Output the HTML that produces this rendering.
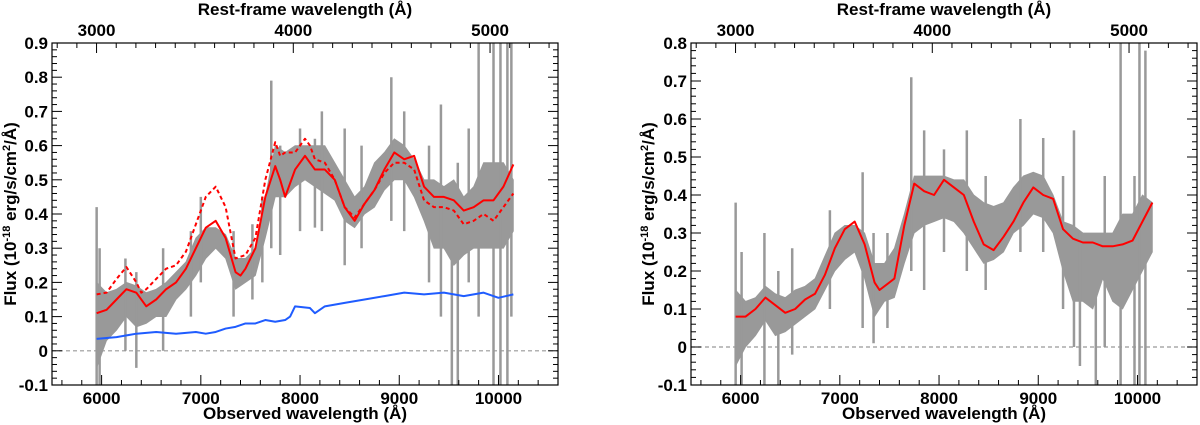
<!DOCTYPE html>
<html><head><meta charset="utf-8"><style>
html,body{margin:0;padding:0;background:#fff}
svg{display:block;font-family:"Liberation Sans",sans-serif;font-weight:bold}
</style></head><body>
<svg id="c" width="1200" height="425" xmlns="http://www.w3.org/2000/svg"></svg>
<script>
const lam = [5950,6050,6150,6250,6350,6450,6550,6650,6750,6850,6950,7050,7150,7250,7350,7450,7550,7650,7750,7850,7950,8050,8150,8250,8350,8450,8550,8650,8750,8850,8950,9050,9150,9250,9350,9450,9550,9650,9750,9850,9950,10050,10150];
const grayUpperL = [0.2,0.17,0.18,0.2,0.19,0.17,0.18,0.2,0.23,0.26,0.33,0.36,0.36,0.34,0.27,0.27,0.3,0.45,0.6,0.58,0.6,0.6,0.6,0.6,0.55,0.5,0.45,0.48,0.55,0.58,0.62,0.6,0.56,0.5,0.5,0.48,0.5,0.45,0.48,0.55,0.55,0.55,0.5];
const grayLowerL = [-0.05,0.03,0.06,0.1,0.07,0.08,0.1,0.1,0.15,0.18,0.22,0.27,0.3,0.27,0.18,0.2,0.22,0.33,0.45,0.45,0.48,0.5,0.48,0.46,0.44,0.38,0.36,0.4,0.42,0.47,0.5,0.5,0.45,0.38,0.3,0.3,0.25,0.28,0.3,0.3,0.3,0.3,0.35];
const spikeLamL = [5950,5980,6240,6350,6620,6900,7000,7330,7520,7620,7710,7800,8000,8150,8220,8450,8620,8920,9050,9300,9420,9530,9590,9700,9800,9950,10020,10090,10130];
const spikeLoL = [-0.1,-0.1,0.0,-0.05,0.0,0.1,0.2,0.1,0.15,0.2,0.3,0.28,0.35,0.36,0.35,0.25,0.3,0.38,0.35,0.2,0.1,-0.1,-0.1,0.2,0.1,-0.1,-0.1,-0.1,0.1];
const spikeHiL = [0.42,0.3,0.27,0.23,0.3,0.35,0.45,0.35,0.37,0.45,0.79,0.6,0.65,0.62,0.7,0.65,0.6,0.8,0.7,0.6,0.72,0.3,0.55,0.65,0.9,0.9,0.9,0.9,0.9];
const redLamL = [5950,6050,6150,6250,6350,6450,6550,6650,6750,6850,6950,7050,7150,7250,7350,7400,7450,7550,7650,7750,7800,7850,7950,8050,8100,8150,8250,8350,8450,8550,8650,8750,8850,8950,9050,9150,9250,9350,9450,9550,9650,9750,9850,9950,10050,10150];
const redSolidL = [0.11,0.12,0.15,0.18,0.17,0.13,0.15,0.18,0.2,0.24,0.3,0.36,0.38,0.33,0.23,0.22,0.24,0.3,0.45,0.54,0.5,0.45,0.53,0.57,0.55,0.53,0.53,0.5,0.42,0.38,0.43,0.47,0.53,0.58,0.56,0.57,0.48,0.45,0.45,0.44,0.41,0.42,0.44,0.44,0.48,0.545];
const dashLamL = [5950,6050,6150,6250,6350,6400,6450,6550,6650,6750,6850,6950,7050,7150,7250,7350,7450,7550,7650,7750,7800,7850,7950,8050,8100,8150,8250,8350,8450,8550,8650,8750,8850,8950,9050,9150,9250,9350,9450,9550,9650,9750,9850,9950,10050,10150];
const redDashL = [0.165,0.17,0.21,0.245,0.2,0.17,0.18,0.21,0.24,0.25,0.29,0.37,0.45,0.48,0.42,0.27,0.28,0.33,0.5,0.61,0.57,0.58,0.58,0.62,0.6,0.56,0.55,0.5,0.42,0.39,0.43,0.47,0.52,0.55,0.55,0.53,0.44,0.42,0.42,0.41,0.37,0.38,0.4,0.38,0.42,0.46];
const blueLam = [5950,6150,6350,6550,6750,6950,7050,7150,7250,7350,7450,7550,7650,7750,7850,7900,7950,8100,8150,8250,8450,8650,8850,9050,9250,9450,9650,9850,10000,10150];
const blueL = [0.035,0.04,0.05,0.055,0.05,0.055,0.05,0.055,0.065,0.07,0.08,0.08,0.09,0.085,0.09,0.1,0.13,0.125,0.11,0.13,0.14,0.15,0.16,0.17,0.165,0.17,0.16,0.17,0.155,0.165];
const redLamR = [5950,6050,6150,6250,6350,6450,6550,6650,6750,6850,6950,7050,7150,7250,7350,7400,7550,7650,7750,7850,7950,8050,8150,8250,8350,8450,8550,8650,8750,8850,8950,9050,9150,9250,9350,9450,9550,9650,9750,9850,9950,10050,10150];
const redR = [0.08,0.08,0.1,0.13,0.11,0.09,0.1,0.125,0.14,0.19,0.26,0.31,0.33,0.27,0.17,0.15,0.18,0.32,0.43,0.41,0.4,0.44,0.42,0.4,0.33,0.27,0.255,0.29,0.33,0.38,0.42,0.4,0.39,0.31,0.285,0.275,0.275,0.265,0.265,0.27,0.28,0.33,0.38];
const grayUpperR = [0.15,0.12,0.13,0.16,0.14,0.13,0.15,0.16,0.18,0.24,0.3,0.32,0.32,0.3,0.22,0.22,0.26,0.35,0.45,0.45,0.45,0.45,0.44,0.44,0.4,0.38,0.37,0.38,0.42,0.45,0.46,0.45,0.4,0.33,0.32,0.3,0.3,0.3,0.3,0.35,0.35,0.4,0.38];
const grayLowerR = [-0.05,0.0,0.03,0.07,0.03,0.04,0.06,0.08,0.1,0.15,0.2,0.23,0.25,0.18,0.08,0.12,0.13,0.22,0.3,0.32,0.33,0.34,0.33,0.3,0.26,0.22,0.23,0.25,0.3,0.32,0.35,0.34,0.3,0.2,0.12,0.12,0.1,0.18,0.12,0.1,0.15,0.2,0.25];
const spikeLamR = [5950,6010,6240,6380,6520,6900,7230,7340,7480,7720,7850,8050,8280,8470,8820,9050,9250,9360,9420,9580,9670,9830,9970,10020,10080];
const spikeLoR = [-0.1,-0.1,-0.1,-0.1,-0.02,0.1,0.05,0.01,0.05,0.2,0.15,0.25,0.2,0.15,0.25,0.25,0.1,0.0,-0.05,-0.1,0.0,-0.1,-0.1,-0.1,-0.1];
const spikeHiR = [0.38,0.25,0.3,0.2,0.26,0.36,0.46,0.3,0.3,0.71,0.57,0.52,0.57,0.45,0.6,0.55,0.45,0.57,0.3,0.3,0.45,0.8,0.45,0.8,0.78];
const xTicks = [6000,7000,8000,9000,10000];
const restTicks = [3000,4000,5000];
const yTicksL = [-0.1,0,0.1,0.2,0.3,0.4,0.5,0.6,0.7,0.8,0.9];
const yTicksR = [-0.1,0,0.1,0.2,0.3,0.4,0.5,0.6,0.7,0.8];
const zFactor = 1.983;

const NS="http://www.w3.org/2000/svg", svg=document.getElementById('c');
function el(tag,attrs,parent){const e=document.createElementNS(NS,tag);for(const k in attrs)e.setAttribute(k,attrs[k]);(parent||svg).appendChild(e);return e;}

function panel(p){
  const g=el('g',{});
  
  
  const X0=5500,X1=10600;
  const sx=v=>p.l+(v-X0)/(X1-X0)*(p.r-p.l);
  const cl=v=>Math.max(p.ymin,Math.min(p.ymax,v));
  const sy=v=>p.b-(cl(v)-p.ymin)/(p.ymax-p.ymin)*(p.b-p.t);
  let d='';
  lam.forEach((l,i)=>{d+=(i?'L':'M')+sx(l)+','+sy(p.up[i]);});
  for(let i=lam.length-1;i>=0;i--)d+='L'+sx(lam[i])+','+sy(p.lo[i]);
  const band=el('path',{d:d+'Z',fill:'#999',stroke:'#999','stroke-width':'0.8'},g);
  
  
  p.sl.forEach((l,i)=>{
    const s=el('line',{x1:sx(l),x2:sx(l),y1:sy(p.slo[i]),y2:sy(p.shi[i]),stroke:'#999','stroke-width':'2.5'},g);
    
    
  });
  const z=el('line',{x1:p.l,x2:p.r,y1:sy(0),y2:sy(0),stroke:'#999','stroke-width':'1.2','stroke-dasharray':'4,3'},g);
  
  
  p.lines.forEach(s=>{
    const pts=s.x.map((l,i)=>sx(l)+','+sy(s.y[i])).join(' ');
    const ln=el('polyline',{points:pts,fill:'none',stroke:s.c,'stroke-width':'2','stroke-dasharray':s.dash||'none','stroke-linejoin':'round'},g);
    
    
  });
  const fr=el('rect',{x:p.l,y:p.t,width:p.r-p.l,height:p.b-p.t,fill:'none',stroke:'#000','stroke-width':'1.2'},g);
  
  
  for(let v=5600;v<=10600;v+=200){
    const maj=v%1000===0,len=maj?10:5,x=sx(v);
    el('line',{x1:x,x2:x,y1:p.b,y2:p.b-len,stroke:'#000','stroke-width':'1'},g);
  }
  xTicks.forEach(v=>{const t=el('text',{x:sx(v),y:p.b+19,'font-size':'17','text-anchor':'middle'},g);t.textContent=v;
    
    });
  for(let v=2800;v<=5300;v+=100){const x=sx(v*zFactor);if(x<p.l||x>p.r)continue;const len=v%1000===0?10:5;
    el('line',{x1:x,x2:x,y1:p.t,y2:p.t+len,stroke:'#000','stroke-width':'1'},g);}
  restTicks.forEach(v=>{const t=el('text',{x:sx(v*zFactor),y:p.t-7,'font-size':'17','text-anchor':'middle'},g);t.textContent=v;
    
    });
  for(let k=Math.round(p.ymin*50);k<=Math.round(p.ymax*50);k++){
    const v=k/50,y=sy(v),len=k%5===0?10:5;
    el('line',{x1:p.l,x2:p.l+len,y1:y,y2:y,stroke:'#000','stroke-width':'1'},g);
    el('line',{x1:p.r,x2:p.r-len,y1:y,y2:y,stroke:'#000','stroke-width':'1'},g);
  }
  p.yt.forEach(v=>{const t=el('text',{x:p.l-4,y:sy(v)+6,'font-size':'17','text-anchor':'end'},g);t.textContent=(v===0?'0':String(v));
    
    });
  const cx=(p.l+p.r)/2;
  const xt=el('text',{x:cx,y:419,'font-size':'17','text-anchor':'middle'},g);xt.textContent='Observed wavelength (Å)';
  
  
  const tt=el('text',{x:cx,y:15,'font-size':'17','text-anchor':'middle'},g);tt.textContent='Rest-frame wavelength (Å)';
  
  
  const yt=el('text',{x:0,y:0,'font-size':'17','text-anchor':'middle',transform:`translate(${p.ylx},${(p.t+p.b)/2}) rotate(-90)`},g);
  yt.innerHTML='Flux (10<tspan dy="-6" font-size="11">-18</tspan><tspan dy="6"> erg/s/cm</tspan><tspan dy="-6" font-size="11">2</tspan><tspan dy="6">/Å)</tspan>';
  
  
}
panel({name:'left-panel',l:52,r:558,t:43,b:385,ymin:-0.1,ymax:0.9,up:grayUpperL,lo:grayLowerL,sl:spikeLamL,slo:spikeLoL,shi:spikeHiL,yt:yTicksL,ylx:16,
  lines:[{x:blueLam,y:blueL,c:'#1f5cff',name:'blue-model'},{x:dashLamL,y:redDashL,c:'#f00',dash:'4,3',name:'red-dashed-model'},{x:redLamL,y:redSolidL,c:'#f00',name:'red-solid-model'}]});
panel({name:'right-panel',l:691,r:1197,t:43,b:385,ymin:-0.1,ymax:0.8,up:grayUpperR,lo:grayLowerR,sl:spikeLamR,slo:spikeLoR,shi:spikeHiR,yt:yTicksR,ylx:654,
  lines:[{x:redLamR,y:redR,c:'#f00',name:'red-model'}]});
</script>
</body></html>
